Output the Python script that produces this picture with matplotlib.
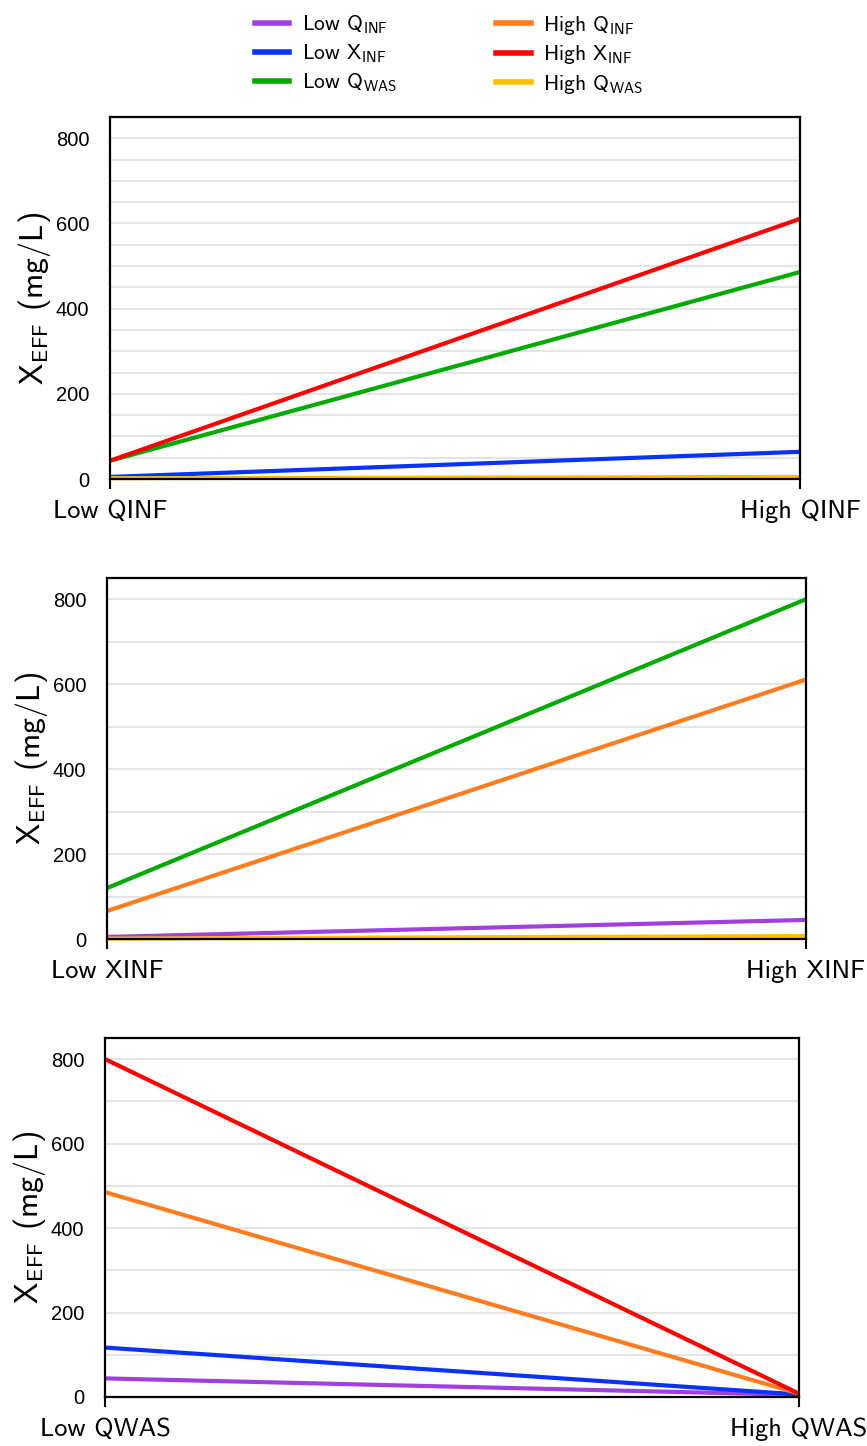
import numpy as np
from matplotlib import pyplot as plt

plt.rcParams['font.family'] = ['cmss10', 'DejaVu Sans']
plt.rcParams['mathtext.fontset'] = 'cm'
plt.rcParams['axes.unicode_minus'] = False

# Effluent solids for each factor sweep (low -> high of the swept factor)
qinf_levels = ['Low QINF', 'High QINF']
xinf_levels = ['Low XINF', 'High XINF']
qwas_levels = ['Low QWAS', 'High QWAS']

# Sweep of QINF
qinf_low_xinf = [5, 64]
qinf_high_xinf = [43, 611]
qinf_low_qwas = [43, 486]
qinf_high_qwas = [2, 5]

# Sweep of XINF
xinf_low_qinf = [5, 45]
xinf_high_qinf = [66, 611]
xinf_low_qwas = [120, 800]
xinf_high_qwas = [1, 7]

# Sweep of QWAS
qwas_low_qinf = [44, 5]
qwas_low_xinf = [117, 6]
qwas_high_qinf = [485, 8]
qwas_high_xinf = [800, 8]

colors = {
    'Low QINF': '#a040e0',
    'Low XINF': '#0a32ff',
    'Low QWAS': '#00aa00',
    'High QINF': '#ff7c20',
    'High XINF': '#ff0000',
    'High QWAS': '#ffbe00',
}
labels = {
    'Low QINF': r'Low $\mathsf{Q}_{\mathsf{INF}}$',
    'Low XINF': r'Low $\mathsf{X}_{\mathsf{INF}}$',
    'Low QWAS': r'Low $\mathsf{Q}_{\mathsf{WAS}}$',
    'High QINF': r'High $\mathsf{Q}_{\mathsf{INF}}$',
    'High XINF': r'High $\mathsf{X}_{\mathsf{INF}}$',
    'High QWAS': r'High $\mathsf{Q}_{\mathsf{WAS}}$',
}
lw = 3.0

fig = plt.figure(figsize=(8.67, 14.46), dpi=100)
ax1 = fig.add_axes([0.1269, 0.6687, 0.7958, 0.2504])
ax2 = fig.add_axes([0.1234, 0.3506, 0.8062, 0.2497])
ax3 = fig.add_axes([0.1211, 0.0339, 0.8005, 0.2483])

x = np.array([0, 1])


def style_axis(ax, ticklabels, grid_step):
    ax.set_xlim(0, 1)
    ax.set_ylim(0, 850)
    ax.set_yticks([0, 200, 400, 600, 800])
    ax.set_yticks(np.arange(0, 851, grid_step), minor=True)
    ax.yaxis.grid(True, which='both', color='#e4e4e4', linewidth=1.4)
    ax.set_axisbelow(True)
    ax.tick_params(axis='y', which='both', length=0, pad=15, labelsize=14.5)
    for lab in ax.get_yticklabels():
        lab.set_fontfamily('Liberation Sans')
    ax.set_xticks(x)
    ax.set_xticklabels(ticklabels, fontsize=19)
    ax.tick_params(axis='x', length=7, width=1.5, pad=8)
    for sp in ax.spines.values():
        sp.set_linewidth(1.6)
    ax.set_ylabel(r'$\mathsf{X}_{\mathsf{EFF}}$ (mg/L)', fontsize=23, labelpad=2)


ax1.plot(x, qinf_low_xinf, color=colors['Low XINF'], lw=lw)
ax1.plot(x, qinf_low_qwas, color=colors['Low QWAS'], lw=lw)
ax1.plot(x, qinf_high_xinf, color=colors['High XINF'], lw=lw)
ax1.plot(x, qinf_high_qwas, color=colors['High QWAS'], lw=lw)
style_axis(ax1, qinf_levels, 50)

ax2.plot(x, xinf_low_qinf, color=colors['Low QINF'], lw=lw)
ax2.plot(x, xinf_low_qwas, color=colors['Low QWAS'], lw=lw)
ax2.plot(x, xinf_high_qinf, color=colors['High QINF'], lw=lw)
ax2.plot(x, xinf_high_qwas, color=colors['High QWAS'], lw=lw)
style_axis(ax2, xinf_levels, 100)

ax3.plot(x, qwas_low_qinf, color=colors['Low QINF'], lw=lw)
ax3.plot(x, qwas_low_xinf, color=colors['Low XINF'], lw=lw)
ax3.plot(x, qwas_high_qinf, color=colors['High QINF'], lw=lw)
ax3.plot(x, qwas_high_xinf, color=colors['High XINF'], lw=lw)
style_axis(ax3, qwas_levels, 100)

for ax in (ax1, ax2, ax3):
    for line in ax.get_lines():
        line.set_clip_on(False)
        line.set_solid_capstyle('butt')

order = ['Low QINF', 'Low XINF', 'Low QWAS', 'High QINF', 'High XINF', 'High QWAS']
handles = [plt.Line2D([], [], color=colors[k], lw=4) for k in order]
fig.legend(handles, [labels[k] for k in order], ncol=2, loc='upper center',
           bbox_to_anchor=(0.518, 1.004), frameon=False, fontsize=15.5,
           handlelength=1.6, handletextpad=0.6, columnspacing=4.6,
           labelspacing=0.3)

fig.savefig('out.png', dpi=100)
